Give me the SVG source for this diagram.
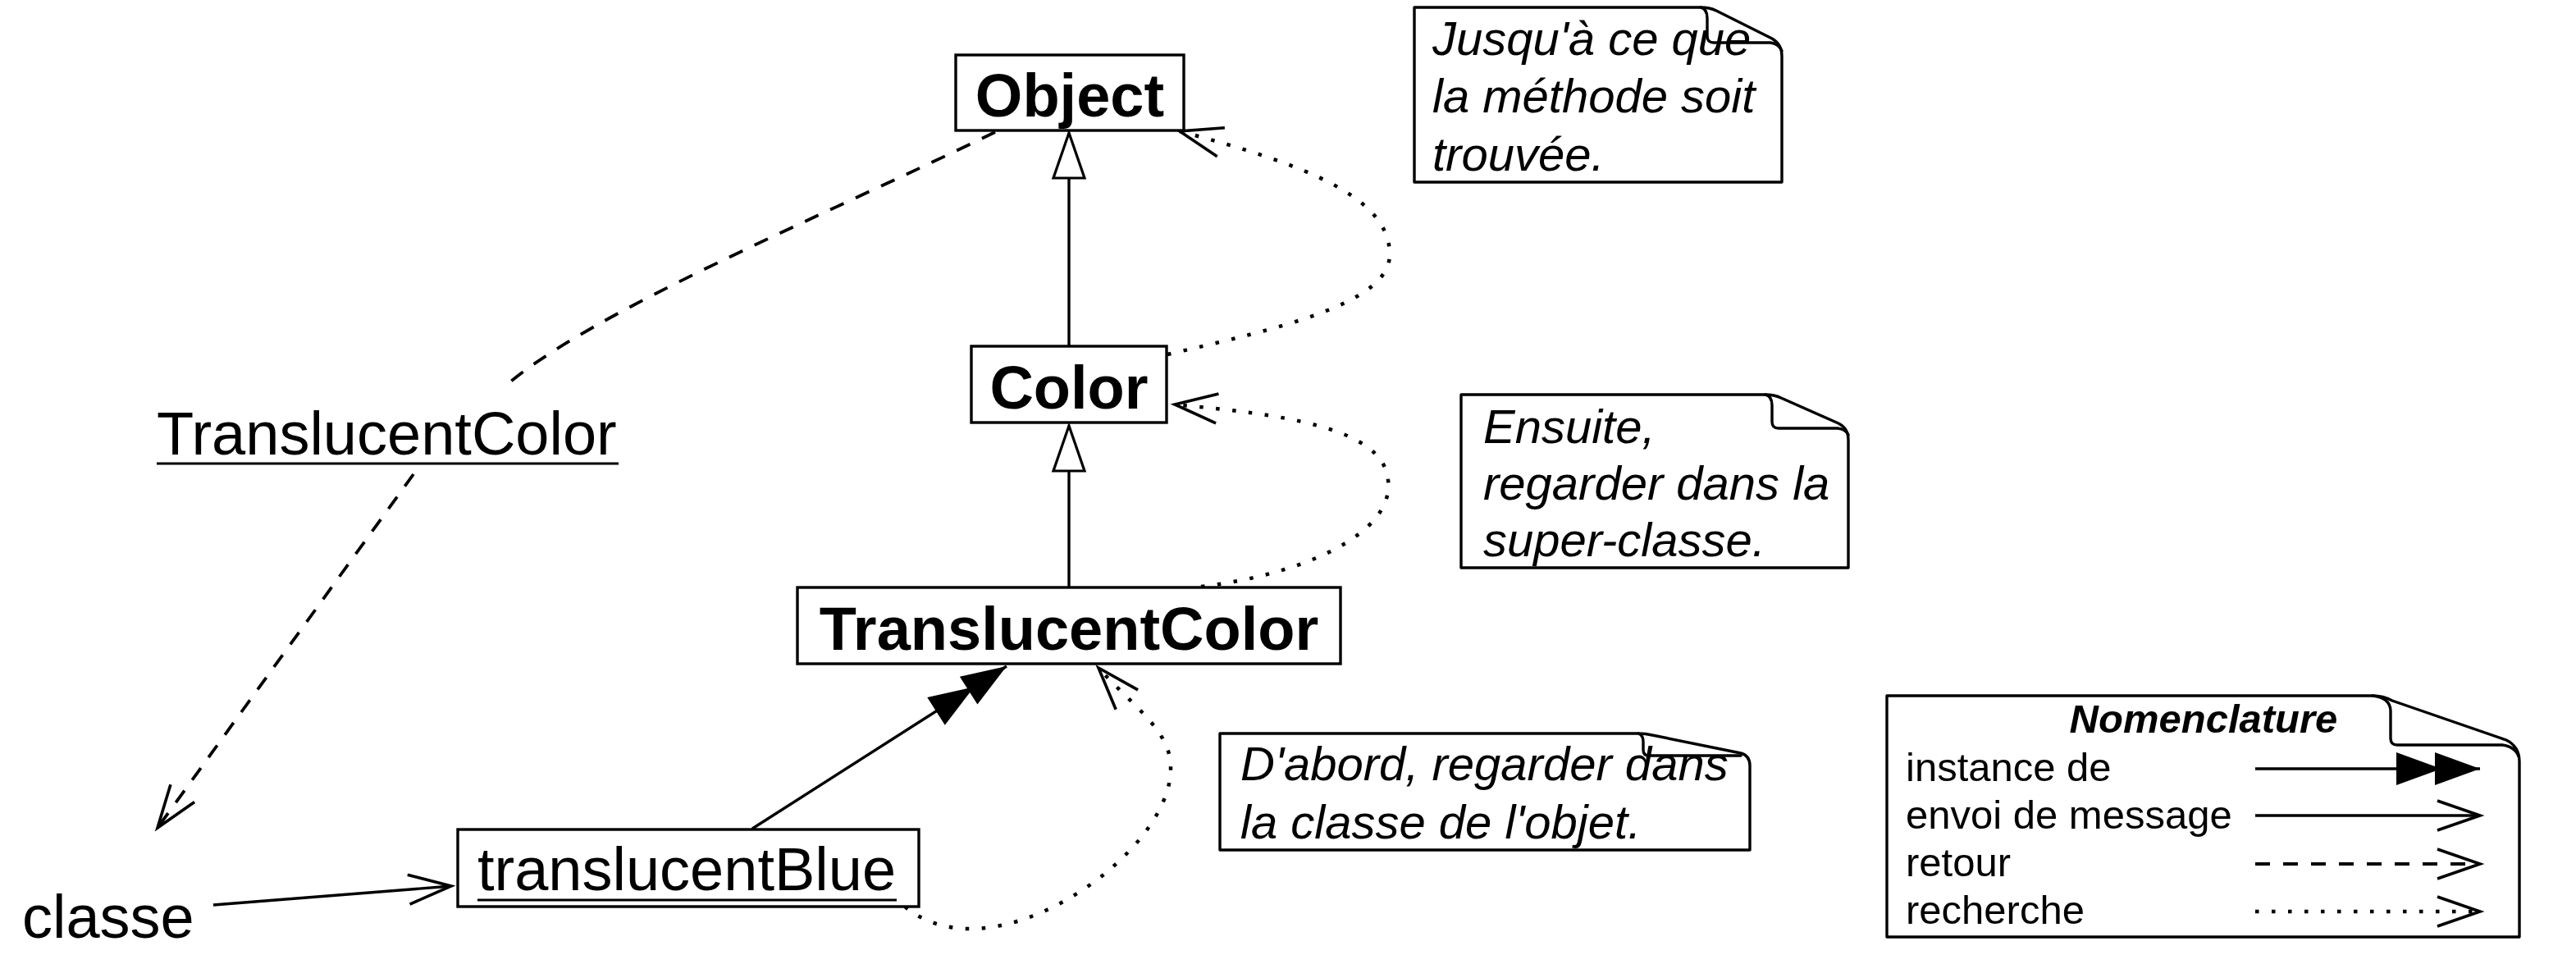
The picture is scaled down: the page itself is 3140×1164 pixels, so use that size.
<svg xmlns="http://www.w3.org/2000/svg" width="3140" height="1164" viewBox="0 0 3140 1164">
<style>
.box{fill:#fff;stroke:#000;stroke-width:3.4}
.note{fill:#fff;stroke:#000;stroke-width:3.4;stroke-linejoin:round}
.fold{fill:none;stroke:#000;stroke-width:3.4;stroke-linejoin:round;stroke-linecap:round}
.cls{font-family:"Liberation Sans",Arial,Helvetica,sans-serif;font-weight:bold;font-size:74px;text-anchor:middle;fill:#000}
.obj{font-family:"Liberation Sans",Arial,Helvetica,sans-serif;font-size:74px;fill:#000}
.ul{stroke:#000;stroke-width:3.2}
.nt{font-family:"Liberation Sans",Arial,Helvetica,sans-serif;font-style:italic;font-size:58px;fill:#000}
.lg{font-family:"Liberation Sans",Arial,Helvetica,sans-serif;font-size:49px;fill:#000}
.lgt{font-family:"Liberation Sans",Arial,Helvetica,sans-serif;font-size:49px;font-weight:bold;font-style:italic;text-anchor:middle;fill:#000}
.c{fill:none;stroke:#000;stroke-width:3.4}
.dash{stroke-dasharray:18 16;stroke-width:3.8}
.dot{stroke-dasharray:4.5 15.5;stroke-width:4.5}
</style>
<defs>
<marker id="open" markerUnits="userSpaceOnUse" orient="auto" markerWidth="70" markerHeight="50" viewBox="-60 -25 70 50" refX="0" refY="0">
<path d="M-52,-18 L0,0 L-52,18" fill="none" stroke="#000" stroke-width="3.6" stroke-linejoin="miter"/>
</marker>
<marker id="dbl" markerUnits="userSpaceOnUse" orient="auto" markerWidth="120" markerHeight="50" viewBox="-110 -25 120 50" refX="0" refY="0">
<path d="M0,0 L-55,-20 L-55,20 Z M-47,0 L-102,-20 L-102,20 Z" fill="#000" stroke="none"/>
</marker>
<marker id="gen" markerUnits="userSpaceOnUse" orient="auto" markerWidth="70" markerHeight="50" viewBox="-62 -25 70 50" refX="0" refY="0">
<path d="M0,0 L-55,-19 L-55,19 Z" fill="#fff" stroke="#000" stroke-width="3.2"/>
</marker>
</defs>

<g id="connectors">
<path id="gen-color-object" class="c" d="M1303,422 L1303,162" marker-end="url(#gen)"/>
<path id="gen-tc-color" class="c" d="M1303,716 L1303,519" marker-end="url(#gen)"/>
<path id="instance-of" class="c" d="M917,1010 L1227,812" marker-end="url(#dbl)"/>
<path id="message" class="c" d="M260,1103 L550,1080" marker-end="url(#open)"/>
<path id="retour" class="c dash" d="M1213,161 C1000,265 720,380 614,472 M504,578 L192,1009" marker-end="url(#open)"/>
<path id="search-1" class="c dot" d="M1103,1105 C1210,1195 1430,1040 1427,935 C1427,890 1380,860 1339,814" marker-end="url(#open)"/>
<path id="search-2" class="c dot" d="M1464,715 C1590,700 1700,650 1692,585 C1686,520 1560,505 1432,493" marker-end="url(#open)"/>
<path id="search-3" class="c dot" d="M1423,432 C1560,400 1694,370 1694,310 C1694,240 1590,200 1438,160" marker-end="url(#open)"/>
</g>

<g id="node-object">
<rect class="box" x="1165" y="67" width="278" height="92"/>
<text class="cls" x="1304" y="142">Object</text>
</g>
<g id="node-color">
<rect class="box" x="1184" y="422" width="238" height="93"/>
<text class="cls" x="1303" y="498">Color</text>
</g>
<g id="node-translucentcolor">
<rect class="box" x="972" y="716" width="662" height="93"/>
<text class="cls" x="1303" y="792">TranslucentColor</text>
</g>
<g id="node-translucentblue">
<rect class="box" x="558" y="1011" width="562" height="94"/>
<text class="obj" x="582" y="1085">translucentBlue</text>
<line class="ul" x1="582" y1="1097" x2="1093" y2="1097"/>
</g>
<g id="label-translucentcolor">
<text class="obj" x="191" y="554">TranslucentColor</text>
<line class="ul" x1="191" y1="565" x2="754" y2="565"/>
</g>
<g id="label-classe">
<text class="obj" x="27" y="1143">classe</text>
</g>

<g id="note-trouvee">
<path class="note" d="M1724,9 H2073 Q2084,9 2092,13 L2160,47 Q2172,54 2172,68 V222 H1724 Z"/>
<text class="nt" x="1746" y="67">Jusqu'à ce que</text>
<text class="nt" x="1746" y="137">la méthode soit</text>
<text class="nt" x="1746" y="208">trouvée.</text>
<path class="fold" d="M2073,9 Q2081,11 2081,22 V44 Q2081,52 2089,52 H2158 Q2168,53 2172,62"/>
</g>
<g id="note-superclasse">
<path class="note" d="M1781,481 H2152 Q2163,481 2171,485 L2241,516 Q2253,522 2253,536 V692 H1781 Z"/>
<path class="fold" d="M2152,481 Q2160,483 2160,494 V514 Q2160,522 2168,522 H2240 Q2250,523 2253,530"/>
<text class="nt" x="1808" y="540">Ensuite,</text>
<text class="nt" x="1808" y="609">regarder dans la</text>
<text class="nt" x="1808" y="678">super-classe.</text>
</g>
<g id="note-abord">
<path class="note" d="M1487,894 H1997 Q2006,894 2014,896 L2122,918 Q2133,921 2133,933 V1036 H1487 Z"/>
<text class="nt" x="1512" y="951">D'abord, regarder dans</text>
<text class="nt" x="1512" y="1022">la classe de l'objet.</text>
<path class="fold" d="M1997,894 Q2003,896 2003,904 V914 Q2003,921 2010,921 H2122"/>
</g>

<g id="legend">
<path class="note" d="M2300,848 H2892 Q2905,848 2916,854 L3055,902 Q3071,910 3071,928 V1142 H2300 Z"/>
<path class="fold" d="M2892,848 Q2913,850 2914,866 V900 Q2914,908 2922,908 H3050 Q3066,910 3070,922"/>
<text class="lgt" x="2686" y="893">Nomenclature</text>
<text class="lg" x="2323" y="952">instance de</text>
<text class="lg" x="2323" y="1010">envoi de message</text>
<text class="lg" x="2323" y="1068">retour</text>
<text class="lg" x="2323" y="1126">recherche</text>
<path class="c" d="M2749,937 L3023,937" marker-end="url(#dbl)"/>
<path class="c" d="M2749,994 L3023,994" marker-end="url(#open)"/>
<path class="c dash" d="M2749,1053 L3023,1053" marker-end="url(#open)"/>
<path class="c dot" d="M2749,1111 L3023,1111" marker-end="url(#open)"/>
</g>
</svg>
